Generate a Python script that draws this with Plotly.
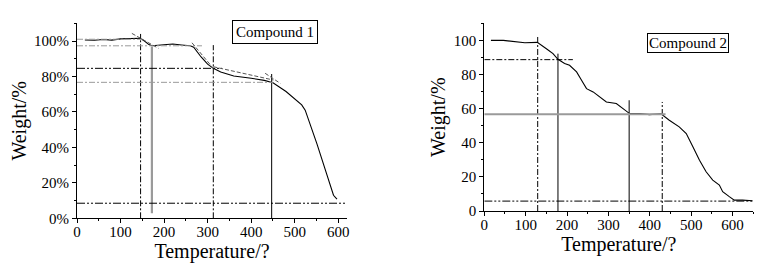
import plotly.graph_objects as go

# ---------------- data ----------------
c1_temp = [18, 40, 60, 80, 100, 120, 145, 155, 165, 172, 185, 200, 220, 240, 260, 268,
           285, 300, 313, 330, 360, 400, 430, 450, 480, 516, 524, 551, 574, 589, 597]
c1_weight = [100.6, 100.4, 100.9, 100.5, 101.2, 101.5, 101.6, 100.0, 98.0, 97.3, 97.6, 97.9,
             98.3, 97.8, 97.3, 96.5, 91.0, 87.0, 84.6, 82.5, 80.3, 79.0, 77.8, 76.5, 71.5,
             64.0, 61.0, 42.0, 25.0, 13.0, 10.8]

c2_temp = [16, 46, 98, 128, 150, 166, 178, 194, 206, 223, 235, 247, 263, 279, 295, 319,
           339, 351, 375, 399, 427, 447, 471, 488, 504, 520, 536, 552, 568, 576, 592, 604,
           624, 648]
c2_weight = [100.0, 100.0, 98.6, 98.8, 95.1, 92.2, 88.9, 86.4, 85.4, 81.5, 76.6, 71.7,
             69.8, 66.9, 63.9, 63.0, 59.1, 57.1, 57.1, 56.5, 57.0, 53.2, 49.3, 45.4, 37.6,
             29.8, 23.0, 18.1, 15.2, 11.3, 8.4, 6.4, 6.4, 6.0]

# reference (onset / end) lines, compound 1
c1_vlines_x = [146, 172, 313, 447]
c1_vlines_top = [104, 96.8, 97.7, 81.4]
c1_vlines_bottom = [0, 2.8, 0, 0]
c1_hlines_y = [101, 97.3, 84.6, 76.7, 8.5]
c1_hlines_end = [150, 287, 333, 450, 620]
# tangent segments, compound 1
c1_tan_x0 = [126, 264, 313, 432]
c1_tan_y0 = [104.3, 99.0, 85.5, 81.8]
c1_tan_x1 = [187, 313, 451, 467]
c1_tan_y1 = [95.9, 84.6, 78.0, 76.1]

# reference lines, compound 2
c2_vlines_x = [129, 178, 350, 430]
c2_vlines_top = [103, 92.2, 64.9, 63.9]
c2_hlines_y = [88.7, 56.7, 5.8]
c2_hlines_end = [214, 438, 650]

x_ticks = [0, 100, 200, 300, 400, 500, 600]
y_ticks = [0, 20, 40, 60, 80, 100]
y1_ticklabels = [f"{v}%" for v in y_ticks]
labels = ["Compound 1", "Compound 2"]

FONT = "Liberation Serif"
BLACK = "#000000"
GRAY = "#9a9a9a"
DDOT = "8px,2px,2px,2px,2px,2px"
DDASH = "6px,2px,2px,2px"

W, H = 759, 265  # page body has an 8px margin

fig = go.Figure()

fig.add_trace(go.Scatter(x=c1_temp, y=c1_weight, mode="lines", xaxis="x", yaxis="y",
                         line=dict(color=BLACK, width=1.1), showlegend=False))
fig.add_trace(go.Scatter(x=c2_temp, y=c2_weight, mode="lines", xaxis="x2", yaxis="y2",
                         line=dict(color=BLACK, width=1.1), showlegend=False))

c1_vstyles = [(BLACK, DDASH, 1), (GRAY, "solid", 2.2), (BLACK, DDASH, 1), (BLACK, "solid", 1)]
for x, top, bot, (col, dash, w) in zip(c1_vlines_x, c1_vlines_top, c1_vlines_bottom, c1_vstyles):
    fig.add_trace(go.Scatter(x=[x, x], y=[bot, top], mode="lines", xaxis="x", yaxis="y",
                             line=dict(color=col, width=w, dash=dash), showlegend=False))

c1_hstyles = [(GRAY, DDASH), (GRAY, DDASH), (BLACK, DDOT), (GRAY, DDASH), (BLACK, DDOT)]
for y, end, (col, dash) in zip(c1_hlines_y, c1_hlines_end, c1_hstyles):
    fig.add_trace(go.Scatter(x=[0, end], y=[y, y], mode="lines", xaxis="x", yaxis="y",
                             line=dict(color=col, width=1, dash=dash), showlegend=False))

for x0, y0, x1, y1 in zip(c1_tan_x0, c1_tan_y0, c1_tan_x1, c1_tan_y1):
    fig.add_trace(go.Scatter(x=[x0, x1], y=[y0, y1], mode="lines", xaxis="x", yaxis="y",
                             line=dict(color="#555555", width=1, dash="4px,2px"), showlegend=False))

c2_vstyles = [(BLACK, DDASH), (BLACK, "solid"), (BLACK, "solid"), (BLACK, DDASH)]
for x, top, (col, dash) in zip(c2_vlines_x, c2_vlines_top, c2_vstyles):
    fig.add_trace(go.Scatter(x=[x, x], y=[0, top], mode="lines", xaxis="x2", yaxis="y2",
                             line=dict(color=col, width=1, dash=dash), showlegend=False))

c2_hstyles = [(BLACK, DDASH, 1), (GRAY, "solid", 2), (BLACK, DDOT, 1)]
for y, end, (col, dash, w) in zip(c2_hlines_y, c2_hlines_end, c2_hstyles):
    fig.add_trace(go.Scatter(x=[0, end], y=[y, y], mode="lines", xaxis="x2", yaxis="y2",
                             line=dict(color=col, width=w, dash=dash), showlegend=False))

axis_common = dict(showgrid=False, zeroline=False, showline=True, linecolor=BLACK, linewidth=1,
                   ticks="outside", ticklen=4, tickwidth=1, tickcolor=BLACK, automargin=False,
                   tickfont=dict(family=FONT, size=15, color=BLACK))
title_font = dict(family=FONT, size=20, color=BLACK)

fig.update_layout(
    width=W, height=H,
    margin=dict(l=0, r=0, t=0, b=0, autoexpand=False),
    paper_bgcolor="white", plot_bgcolor="white",
    font=dict(family=FONT, color=BLACK),
    xaxis=dict(domain=[69 / W, 339 / W], range=[0, 620], tickvals=x_ticks,
               minor=dict(dtick=50, ticks="outside", ticklen=2, tickcolor=BLACK),
               ticklabelstandoff=-4,
               title=dict(text="Temperature/?", font=title_font, standoff=0),
               anchor="y", **axis_common),
    yaxis=dict(domain=[54.7 / H, 249.7 / H], range=[0, 110], tickvals=y_ticks,
               ticktext=y1_ticklabels,
               minor=dict(dtick=10, ticks="outside", ticklen=2, tickcolor=BLACK),
               title=dict(text="Weight/%", font=title_font, standoff=2),
               anchor="x", **axis_common),
    xaxis2=dict(domain=[476.3 / W, 745.3 / W], range=[0, 650], tickvals=x_ticks,
                minor=dict(dtick=50, ticks="outside", ticklen=2, tickcolor=BLACK),
                ticklabelstandoff=-4,
                title=dict(text="Temperature/?", font=title_font, standoff=0),
                anchor="y2", **axis_common),
    yaxis2=dict(domain=[62 / H, 249.7 / H], range=[0, 110], tickvals=y_ticks,
                minor=dict(dtick=10, ticks="outside", ticklen=2, tickcolor=BLACK),
                title=dict(text="Weight/%", font=title_font, standoff=2),
                anchor="x2", **axis_common),
    annotations=[
        dict(text=labels[0], xref="paper", yref="paper", x=267 / W, y=1 - 24 / H,
             xanchor="center", yanchor="middle",
             showarrow=False, font=dict(family=FONT, size=15, color=BLACK),
             bordercolor=BLACK, borderwidth=1, borderpad=3, bgcolor="white"),
        dict(text=labels[1], xref="paper", yref="paper", x=679.5 / W, y=1 - 35.5 / H,
             xanchor="center", yanchor="middle",
             showarrow=False, font=dict(family=FONT, size=15, color=BLACK),
             bordercolor=BLACK, borderwidth=1, borderpad=1, bgcolor="white"),
    ],
)

fig.write_html("out.html")
